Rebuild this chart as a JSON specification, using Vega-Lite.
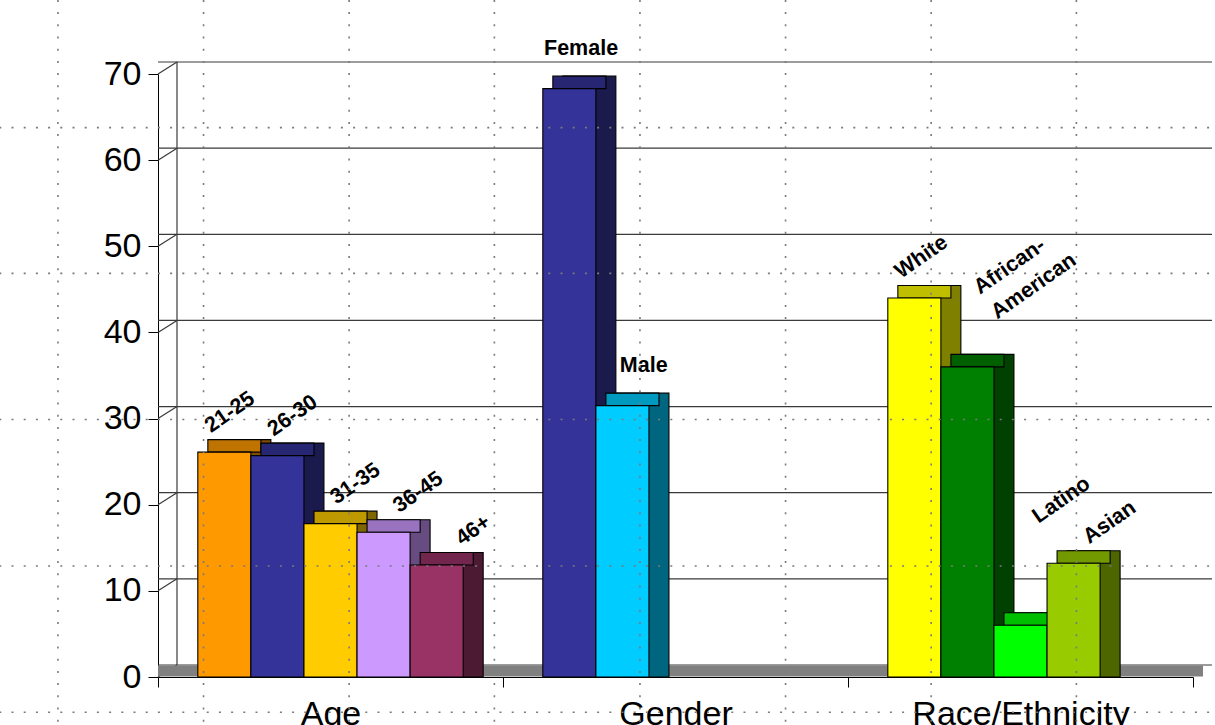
{
  "$schema": "https://vega.github.io/schema/vega-lite/v6.json",
  "width": 1035,
  "height": 603,
  "autosize": {"type": "none"},
  "padding": {"left": 158, "top": 74, "right": 22, "bottom": 48},
  "background": "white",
  "config": {
    "font": "Liberation Sans",
    "view": {"stroke": null},
    "axis": {"labelFont": "Liberation Sans", "labelFontSize": 34, "labelColor": "black", "tickColor": "black", "domainColor": "black", "tickSize": 10, "grid": false, "labelLimit": 1000},
    "axisX": {"tickBand": "extent", "labelPadding": 10, "labelAngle": 0},
    "axisY": {"labelPadding": 7, "tickCount": 8}
  },
  "datasets": {
    "bars": [
      {"group": "Age", "series": "s1", "item": "21-25", "label": "21-25", "value": 26.1},
      {"group": "Age", "series": "s2", "item": "26-30", "label": "26-30", "value": 25.7},
      {"group": "Age", "series": "s3", "item": "31-35", "label": "31-35", "value": 17.8},
      {"group": "Age", "series": "s4", "item": "36-45", "label": "36-45", "value": 16.8},
      {"group": "Age", "series": "s5", "item": "46+", "label": "46+", "value": 13.0},
      {"group": "Gender", "series": "s1", "item": "Female", "label": "Female", "value": 68.3},
      {"group": "Gender", "series": "s2", "item": "Male", "label": "Male", "value": 31.5},
      {"group": "Race/Ethnicity", "series": "s1", "item": "White", "label": "White", "value": 44.0},
      {"group": "Race/Ethnicity", "series": "s2", "item": "African-American", "label": "African-\nAmerican", "value": 36.0},
      {"group": "Race/Ethnicity", "series": "s3", "item": "Latino", "label": "Latino", "value": 6.0},
      {"group": "Race/Ethnicity", "series": "s4", "item": "Asian", "label": "Asian", "value": 13.2}
    ],
    "grid": [{"v": 0}, {"v": 10}, {"v": 20}, {"v": 30}, {"v": 40}, {"v": 50}, {"v": 60}, {"v": 70}],
    "hdots": [{"p": 63.77}, {"p": 46.86}, {"p": 29.89}, {"p": 12.89}, {"p": -4.09}],
    "vdots": [{"p": -0.29}, {"p": 0.132}, {"p": 0.554}, {"p": 0.975}, {"p": 1.397}, {"p": 1.819}, {"p": 2.241}, {"p": 2.662}]
  },
  "layer": [
    {
      "layer": [
        {
          "data": {"name": "grid"},
          "mark": {"type": "rule", "color": "#3a3a3a", "strokeWidth": 1.2, "xOffset": 19, "x2Offset": 22, "yOffset": -12},
          "encoding": {
            "y": {"field": "v", "type": "quantitative", "title": null, "scale": {"domain": [0, 70], "nice": false}}
          }
        },
        {
          "data": {"values": [{"lo": 0, "hi": 70}]},
          "mark": {"type": "rule", "color": "#3a3a3a", "strokeWidth": 1.2, "xOffset": 19, "yOffset": -12, "y2Offset": -12},
          "encoding": {
            "x": {"value": 0},
            "y": {"field": "lo", "type": "quantitative", "title": null, "scale": {"domain": [0, 70], "nice": false}},
            "y2": {"field": "hi"}
          }
        },
        {
          "data": {"name": "grid"},
          "mark": {"type": "rule", "color": "#3a3a3a", "strokeWidth": 1.2, "x2Offset": 19, "y2Offset": -12},
          "encoding": {
            "x": {"value": 0},
            "x2": {"value": 0},
            "y": {"field": "v", "type": "quantitative", "title": null, "scale": {"domain": [0, 70], "nice": false}},
            "y2": {"field": "v"}
          }
        },
        {
          "data": {"values": [{"v": 0}]},
          "mark": {"type": "rule", "color": "#808080", "strokeWidth": 11, "xOffset": 10, "x2Offset": 14, "yOffset": -6},
          "encoding": {
            "y": {"field": "v", "type": "quantitative", "title": null, "scale": {"domain": [0, 70], "nice": false}}
          }
        },
        {
          "data": {"name": "bars"},
          "layer": [
            {
              "mark": {"type": "bar", "stroke": "black", "strokeWidth": 1.1, "yOffset": -12.5, "y2Offset": -12.5},
              "encoding": {
                "x": {"field": "group", "type": "nominal", "title": null, "scale": {"domain": ["Age", "Gender", "Race/Ethnicity"], "paddingInner": 0, "paddingOuter": 0}},
                "xOffset": {"field": "series", "type": "nominal", "scale": {"domain": ["s1", "s2", "s3", "s4", "s5"], "paddingInner": 0, "paddingOuter": 0.75, "align": 0.751}},
                "y": {"field": "value", "type": "quantitative", "title": null, "stack": null, "scale": {"domain": [0, 70], "nice": false}},
                "color": {"field": "item", "type": "nominal", "legend": null, "scale": {"domain": ["21-25","26-30","31-35","36-45","46+","Female","Male","White","African-American","Latino","Asian"], "range": ["#804C00","#1A1A4D","#806600","#664C80","#4D1A33","#1A1A4D","#006680","#808000","#004000","#008000","#4D6600"]}}
              }
            },
            {
              "mark": {"type": "bar", "stroke": "black", "strokeWidth": 1.1, "yOffset": -12.5},
              "encoding": {
                "x": {"field": "group", "type": "nominal", "title": null, "scale": {"domain": ["Age", "Gender", "Race/Ethnicity"], "paddingInner": 0, "paddingOuter": 0}},
                "xOffset": {"field": "series", "type": "nominal", "scale": {"domain": ["s1", "s2", "s3", "s4", "s5"], "paddingInner": 0, "paddingOuter": 0.75, "align": 0.626}},
                "y": {"field": "value", "type": "quantitative", "title": null, "stack": null, "scale": {"domain": [0, 70], "nice": false}},
                "y2": {"field": "value"},
                "color": {"field": "item", "type": "nominal", "legend": null, "scale": {"domain": ["21-25","26-30","31-35","36-45","46+","Female","Male","White","African-American","Latino","Asian"], "range": ["#BF7300","#262673","#BF9900","#9973BF","#73264D","#262673","#0099BF","#BFBF00","#006000","#00BF00","#739900"]}}
              }
            },
            {
              "mark": {"type": "bar", "stroke": "black", "strokeWidth": 1.1},
              "encoding": {
                "x": {"field": "group", "type": "nominal", "title": null, "scale": {"domain": ["Age", "Gender", "Race/Ethnicity"], "paddingInner": 0, "paddingOuter": 0}},
                "xOffset": {"field": "series", "type": "nominal", "scale": {"domain": ["s1", "s2", "s3", "s4", "s5"], "paddingInner": 0, "paddingOuter": 0.75, "align": 0.5}},
                "y": {"field": "value", "type": "quantitative", "title": null, "stack": null, "scale": {"domain": [0, 70], "nice": false}},
                "color": {"field": "item", "type": "nominal", "legend": null, "scale": {"domain": ["21-25","26-30","31-35","36-45","46+","Female","Male","White","African-American","Latino","Asian"], "range": ["#FF9900","#333399","#FFCC00","#CC99FF","#993366","#333399","#00CCFF","#FFFF00","#008000","#00FF00","#99CC00"]}}
              }
            },
            {
              "transform": [{"filter": "indexof(['Female','Male','African-American','Latino'], datum.item) < 0"}],
              "mark": {"type": "text", "font": "Liberation Sans", "fontWeight": "bold", "fontSize": 21.5, "color": "black", "angle": 325, "align": "left", "baseline": "alphabetic", "dx": 15.8, "dy": -12.1},
              "encoding": {
                "x": {"field": "group", "type": "nominal", "title": null, "scale": {"domain": ["Age", "Gender", "Race/Ethnicity"], "paddingInner": 0, "paddingOuter": 0}},
                "xOffset": {"field": "series", "type": "nominal", "scale": {"domain": ["s1", "s2", "s3", "s4", "s5"], "paddingInner": 0, "paddingOuter": 0.75, "align": 0.5}},
                "y": {"field": "value", "type": "quantitative", "title": null, "scale": {"domain": [0, 70], "nice": false}},
                "text": {"field": "label"}
              }
            },
            {
              "transform": [{"filter": "datum.item === 'African-American'"}],
              "mark": {"type": "text", "font": "Liberation Sans", "fontWeight": "bold", "fontSize": 21.5, "color": "black", "angle": 325, "align": "left", "baseline": "alphabetic", "lineBreak": "\n", "lineHeight": 30, "dx": 59.6, "dy": -46.2},
              "encoding": {
                "x": {"field": "group", "type": "nominal", "title": null, "scale": {"domain": ["Age", "Gender", "Race/Ethnicity"], "paddingInner": 0, "paddingOuter": 0}},
                "xOffset": {"field": "series", "type": "nominal", "scale": {"domain": ["s1", "s2", "s3", "s4", "s5"], "paddingInner": 0, "paddingOuter": 0.75, "align": 0.5}},
                "y": {"field": "value", "type": "quantitative", "title": null, "scale": {"domain": [0, 70], "nice": false}},
                "text": {"field": "label"}
              }
            },
            {
              "transform": [{"filter": "datum.item === 'Latino'"}],
              "mark": {"type": "text", "font": "Liberation Sans", "fontWeight": "bold", "fontSize": 21.5, "color": "black", "angle": 325, "align": "left", "baseline": "alphabetic", "dx": 73.1, "dy": -72.8},
              "encoding": {
                "x": {"field": "group", "type": "nominal", "title": null, "scale": {"domain": ["Age", "Gender", "Race/Ethnicity"], "paddingInner": 0, "paddingOuter": 0}},
                "xOffset": {"field": "series", "type": "nominal", "scale": {"domain": ["s1", "s2", "s3", "s4", "s5"], "paddingInner": 0, "paddingOuter": 0.75, "align": 0.5}},
                "y": {"field": "value", "type": "quantitative", "title": null, "scale": {"domain": [0, 70], "nice": false}},
                "text": {"field": "label"}
              }
            },
            {
              "transform": [{"filter": "datum.group === 'Gender'"}],
              "mark": {"type": "text", "font": "Liberation Sans", "fontWeight": "bold", "fontSize": 21.5, "color": "black", "align": "center", "baseline": "alphabetic", "dx": 31, "dy": -34},
              "encoding": {
                "x": {"field": "group", "type": "nominal", "title": null, "scale": {"domain": ["Age", "Gender", "Race/Ethnicity"], "paddingInner": 0, "paddingOuter": 0}},
                "xOffset": {"field": "series", "type": "nominal", "scale": {"domain": ["s1", "s2", "s3", "s4", "s5"], "paddingInner": 0, "paddingOuter": 0.75, "align": 0.5}},
                "y": {"field": "value", "type": "quantitative", "title": null, "scale": {"domain": [0, 70], "nice": false}},
                "text": {"field": "label"}
              }
            }
          ],
          "resolve": {"scale": {"x": "shared", "xOffset": "independent", "color": "independent"}}
        }
      ],
      "resolve": {"scale": {"x": "shared", "y": "shared"}}
    },
    {
      "layer": [
        {
          "data": {"name": "hdots"},
          "mark": {"type": "rule", "color": "#7a7a7a", "strokeWidth": 1.6, "strokeDash": [2, 10.2]},
          "encoding": {
            "y": {"field": "p", "type": "quantitative", "axis": null, "scale": {"domain": [0, 70], "nice": false, "zero": false}},
            "x": {"datum": -0.46, "type": "quantitative", "axis": null, "scale": {"domain": [0, 3], "nice": false, "zero": false}},
            "x2": {"datum": 3.07}
          }
        },
        {
          "data": {"name": "vdots"},
          "mark": {"type": "rule", "color": "#7a7a7a", "strokeWidth": 1.6, "strokeDash": [2, 10.2]},
          "encoding": {
            "x": {"field": "p", "type": "quantitative", "axis": null, "scale": {"domain": [0, 3], "nice": false, "zero": false}},
            "y": {"datum": 78.6, "type": "quantitative", "axis": null, "scale": {"domain": [0, 70], "nice": false, "zero": false}},
            "y2": {"datum": -5.6}
          }
        }
      ]
    }
  ],
  "resolve": {"scale": {"x": "independent", "y": "independent"}, "axis": {"x": "independent", "y": "independent"}}
}
